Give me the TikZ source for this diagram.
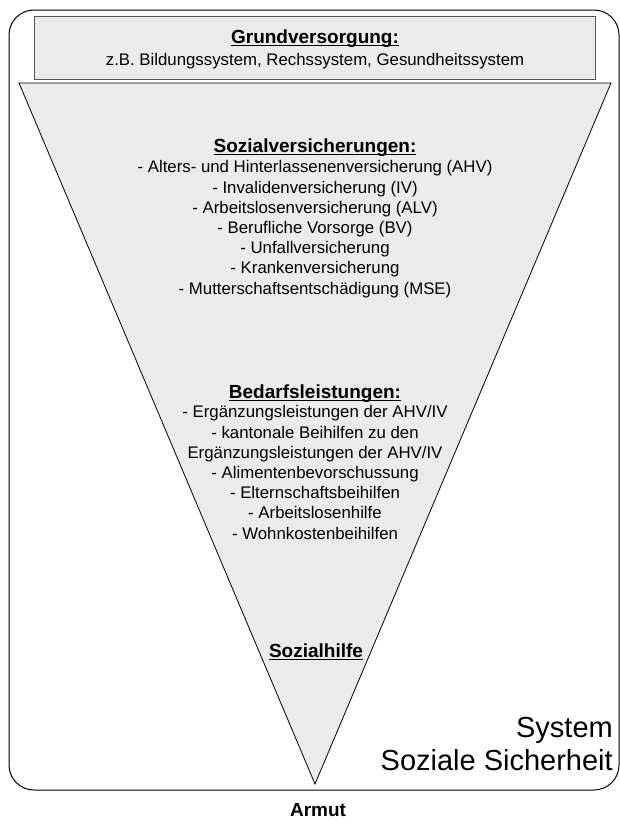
\documentclass[tikz,border=0pt]{standalone}
\usepackage{fontspec}
\setmainfont{Liberation Sans}
\usetikzlibrary{positioning}

\definecolor{fillgray}{HTML}{EBEBEB}
\definecolor{framegray}{HTML}{555555}

\newcommand{\heading}[1]{\sbox0{\bfseries #1}\rlap{\vrule width \wd0 height -2.0pt depth 3.4pt}\usebox0}

\begin{document}
\begin{tikzpicture}[x=1pt,y=-1pt,
    every node/.style={inner sep=0pt, font=\fontsize{16.8}{20.2}\selectfont},
    headtext/.style={anchor=base, font=\fontsize{19}{22}\selectfont\bfseries},
    listtext/.style={align=center, anchor=base},
    bigtext/.style={anchor=base east, font=\fontsize{29}{33}\selectfont}]
    \useasboundingbox (0,0) rectangle (620,827);

    \draw [rounded corners=25pt, line width=1pt] (9,10) rectangle (619,790);
    \draw [fill=fillgray, draw=framegray, line width=1pt] (34,16) rectangle (595,79);
    \draw [fill=fillgray, line width=0.8pt] (19,83) -- (611,83) -- (315,784) -- cycle;

    \node (grund) [headtext] at (315,43) {\heading{Grundversorgung:}};
    \node (grundtext) [anchor=base] at (315,65) {z.B. Bildungssystem, Rechssystem, Gesundheitssystem};

    \node (sozvers) [headtext] at (315,152) {\heading{Sozialversicherungen:}};
    \node (sozverslist) [listtext] at (315,294) {- Alters- und Hinterlassenenversicherung (AHV)\\
        - Invalidenversicherung (IV)\\
        - Arbeitslosenversicherung (ALV)\\
        - Berufliche Vorsorge (BV)\\
        - Unfallversicherung\\
        - Krankenversicherung\\
        - Mutterschaftsentschädigung (MSE)};

    \node (bedarf) [headtext] at (315,398) {\heading{Bedarfsleistungen:}};
    \node (bedarflist) [listtext] at (315,539) {- Ergänzungsleistungen der AHV/IV\\
        - kantonale Beihilfen zu den\\
        Ergänzungsleistungen der AHV/IV\\
        - Alimentenbevorschussung\\
        - Elternschaftsbeihilfen\\
        - Arbeitslosenhilfe\\
        - Wohnkostenbeihilfen};

    \node (sozhilfe) [headtext] at (316,657) {\heading{Sozialhilfe}};

    \node (system) [bigtext] at (613,737) {System};
    \node (sicherheit) [bigtext] at (613,770) {Soziale Sicherheit};

    \node (armut) [headtext] at (318,816) {Armut};
\end{tikzpicture}
\end{document}
